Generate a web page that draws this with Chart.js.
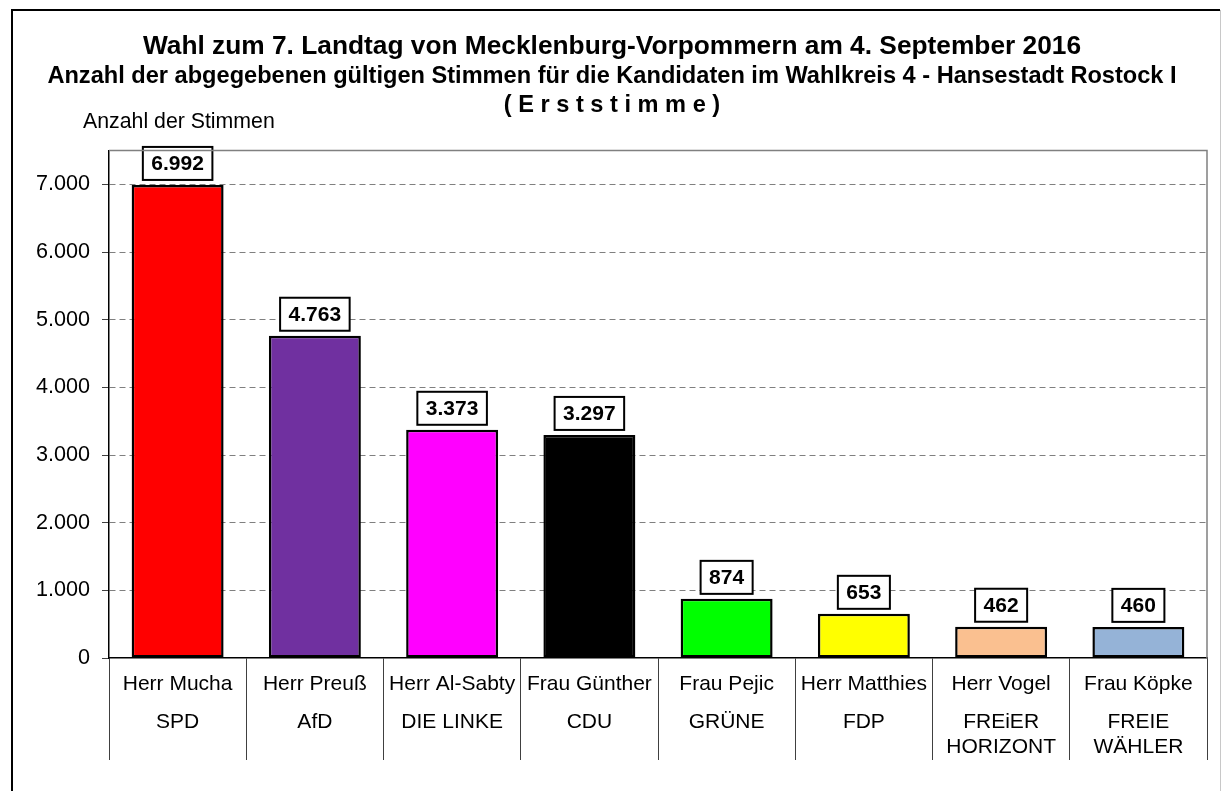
<!DOCTYPE html>
<html>
<head>
<meta charset="utf-8">
<script src="https://cdn.jsdelivr.net/npm/chart.js@4/dist/chart.umd.min.js"></script>
<style>
  body { margin: 0; background: #fff; }
  #wrap { width: 1224px; height: 791px; position: relative; }
</style>
</head>
<body>
<div id="wrap"><canvas id="wahlChart"></canvas></div>
<script>
const candidates = ['Herr Mucha', 'Herr Preuß', 'Herr Al-Sabty', 'Frau Günther', 'Frau Pejic', 'Herr Matthies', 'Herr Vogel', 'Frau Köpke'];
const parties = [['SPD'], ['AfD'], ['DIE LINKE'], ['CDU'], ['GRÜNE'], ['FDP'], ['FREiER', 'HORIZONT'], ['FREIE', 'WÄHLER']];
const votes = [6992, 4763, 3373, 3297, 874, 653, 462, 460];
const barColors = ['#ff0000', '#7030a0', '#ff00ff', '#000000', '#00ff00', '#ffff00', '#fac090', '#95b3d7'];
const yTicks = [0, 1000, 2000, 3000, 4000, 5000, 6000, 7000];

const FONT = "'Liberation Sans', Arial, sans-serif";

function fmt(v) {
  return String(v).replace(/\B(?=(\d{3})+(?!\d))/g, '.');
}

// candidate name, gap, then party (lines spaced by half steps)
const labels = candidates.map((c, i) => {
  const out = [c, '', ''];
  parties[i].forEach((p, j) => {
    if (j > 0) out.push('');
    out.push(p);
  });
  return out;
});

const extras = {
  id: 'extras',
  beforeDraw(chart) {
    const ctx = chart.ctx;
    ctx.save();
    ctx.strokeStyle = '#000';
    ctx.lineWidth = 2;
    ctx.beginPath();
    ctx.moveTo(12, 800);
    ctx.lineTo(12, 10);
    ctx.lineTo(1220, 10);
    ctx.stroke();
    ctx.strokeStyle = '#c8c8c8';
    ctx.lineWidth = 1;
    ctx.beginPath();
    ctx.moveTo(1220.5, 10);
    ctx.lineTo(1220.5, 800);
    ctx.stroke();
    ctx.fillStyle = '#000';
    ctx.font = '21.3px ' + FONT;
    ctx.textBaseline = 'middle';
    ctx.textAlign = 'left';
    ctx.fillText('Anzahl der Stimmen', 83, 122);
    ctx.restore();
  },
  afterDatasetsDraw(chart) {
    const ctx = chart.ctx;
    const meta = chart.getDatasetMeta(0);
    ctx.save();
    ctx.font = 'bold 21px ' + FONT;
    ctx.textAlign = 'center';
    ctx.textBaseline = 'middle';
    meta.data.forEach((bar, i) => {
      const txt = fmt(votes[i]);
      const w = ctx.measureText(txt).width + 17;
      const h = 33;
      const bottom = bar.y - 5;
      ctx.fillStyle = '#fff';
      ctx.fillRect(bar.x - w / 2, bottom - h, w, h);
      ctx.strokeStyle = '#000';
      ctx.lineWidth = 2;
      ctx.strokeRect(bar.x - w / 2, bottom - h, w, h);
      ctx.fillStyle = '#000';
      ctx.fillText(txt, bar.x, bottom - h / 2 + 1);
    });
    ctx.restore();
  },
  afterDraw(chart) {
    const a = chart.chartArea;
    const ctx = chart.ctx;
    ctx.save();
    ctx.strokeStyle = '#808080';
    ctx.lineWidth = 1.5;
    ctx.beginPath();
    ctx.moveTo(a.left, a.top);
    ctx.lineTo(a.right, a.top);
    ctx.lineTo(a.right, a.bottom);
    ctx.stroke();
    ctx.restore();
  }
};

new Chart(document.getElementById('wahlChart'), {
  type: 'bar',
  data: {
    labels: labels,
    datasets: [{
      data: votes,
      backgroundColor: barColors,
      borderColor: '#000',
      borderWidth: 2.5,
      borderSkipped: false,
      barPercentage: 0.67,
      categoryPercentage: 1
    }]
  },
  options: {
    responsive: true,
    maintainAspectRatio: false,
    animation: false,
    layout: { padding: { left: 17, right: 17, top: 0, bottom: 0 } },
    plugins: {
      legend: { display: false },
      tooltip: { enabled: false },
      title: {
        display: true,
        text: 'Wahl zum 7. Landtag von Mecklenburg-Vorpommern am 4. September 2016',
        color: '#000',
        font: { family: FONT, size: 26.3, weight: 'bold', lineHeight: 1.2 },
        padding: { top: 31, bottom: 0 }
      },
      subtitle: {
        display: true,
        text: ['Anzahl der abgegebenen gültigen Stimmen für die Kandidaten im Wahlkreis 4 - Hansestadt Rostock I', '( E r s t s t i m m e )'],
        color: '#000',
        font: { family: FONT, size: 23.6, weight: 'bold', lineHeight: 28.5 / 23.6 },
        padding: { top: 0, bottom: 31 }
      }
    },
    scales: {
      x: {
        grid: {
          drawOnChartArea: false,
          tickLength: 102,
          color: '#404040',
          lineWidth: 1
        },
        border: { color: '#000', width: 1.5 },
        ticks: {
          color: '#000',
          font: { family: FONT, size: 21, lineHeight: 12.67 / 21 },
          padding: -82,
          maxRotation: 0,
          autoSkip: false
        },
        afterFit(s) { s.height = 133; }
      },
      y: {
        min: 0,
        max: 7500,
        afterBuildTicks(s) { s.ticks = yTicks.map(v => ({ value: v })); },
        grid: {
          color: ctx => ctx.tick && ctx.tick.value === 0 ? 'rgba(0,0,0,0)' : '#808080',
          lineWidth: 1,
          tickLength: 7,
          tickColor: '#404040'
        },
        border: { color: '#000', width: 1.5, dash: [6, 4] },
        ticks: {
          color: '#000',
          font: { family: FONT, size: 21.6 },
          padding: 12,
          callback: v => fmt(v)
        },
        afterFit(s) { s.width = 92; }
      }
    }
  },
  plugins: [extras]
});
</script>
</body>
</html>
